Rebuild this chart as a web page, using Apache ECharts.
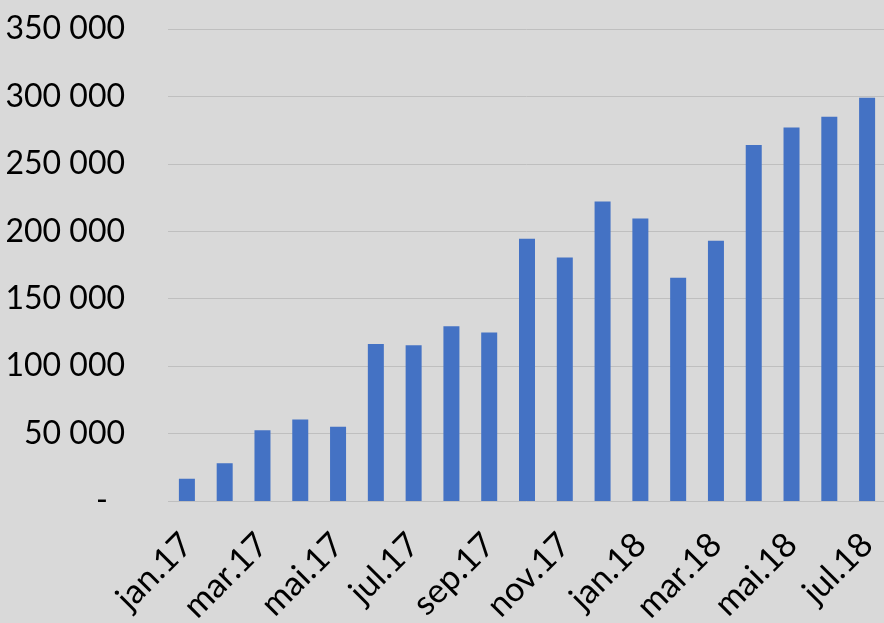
<!DOCTYPE html>
<html>
<head>
<meta charset="utf-8">
<script src="https://cdn.jsdelivr.net/npm/echarts@6/dist/echarts.min.js"></script>
<style>
  html, body { margin: 0; padding: 0; background: #d9d9d9; }
  #chart { width: 884px; height: 623px; }
</style>
</head>
<body>
<div id="chart"></div>
<script>
// måneder jan.17 - jul.18
var months = ['jan.17', 'feb.17', 'mar.17', 'apr.17', 'mai.17', 'jun.17', 'jul.17', 'aug.17', 'sep.17', 'okt.17',
  'nov.17', 'des.17', 'jan.18', 'feb.18', 'mar.18', 'apr.18', 'mai.18', 'jun.18', 'jul.18'];
var values = [16500, 28000, 52500, 60500, 55000, 116500, 115500, 129500, 125000, 194500,
  180500, 222000, 209500, 165500, 193000, 264000, 277000, 285000, 299000];
var yTicks = [0, 50000, 100000, 150000, 200000, 250000, 300000, 350000];

var myChart = echarts.init(document.getElementById('chart'));

function fmt(v) {
  if (v === 0) return '{dash|-}';
  return String(v).replace(/\B(?=(\d{3})+(?!\d))/g, ' ');
}

var option = {
  backgroundColor: '#d9d9d9',
  animation: false,
  textStyle: { fontFamily: 'Lato' },
  grid: { left: 168, right: -2, top: 29, bottom: 122, outerBoundsMode: 'none', containLabel: false },
  xAxis: {
    type: 'category',
    data: months,
    axisLine: { show: false },
    axisTick: { show: false },
    axisLabel: {
      interval: 1,
      rotate: 45,
      margin: 38,
      fontSize: 34,
      color: '#000',
      fontFamily: 'Lato'
    }
  },
  yAxis: {
    type: 'value',
    min: yTicks[0],
    max: yTicks[yTicks.length - 1],
    interval: 50000,
    axisLine: { show: false },
    axisTick: { show: false },
    splitLine: { lineStyle: { color: '#bfbfbf', width: 1 } },
    axisLabel: {
      margin: 43,
      fontSize: 32,
      color: '#000',
      fontFamily: 'Lato',
      formatter: fmt,
      rich: { dash: { fontSize: 32, fontFamily: 'Lato', color: '#000', padding: [0, 17, 0, 0] } }
    }
  },
  series: [
    {
      type: 'bar',
      data: values,
      barWidth: 16,
      itemStyle: { color: '#4472c4' }
    }
  ]
};
myChart.setOption(option);
</script>
</body>
</html>
